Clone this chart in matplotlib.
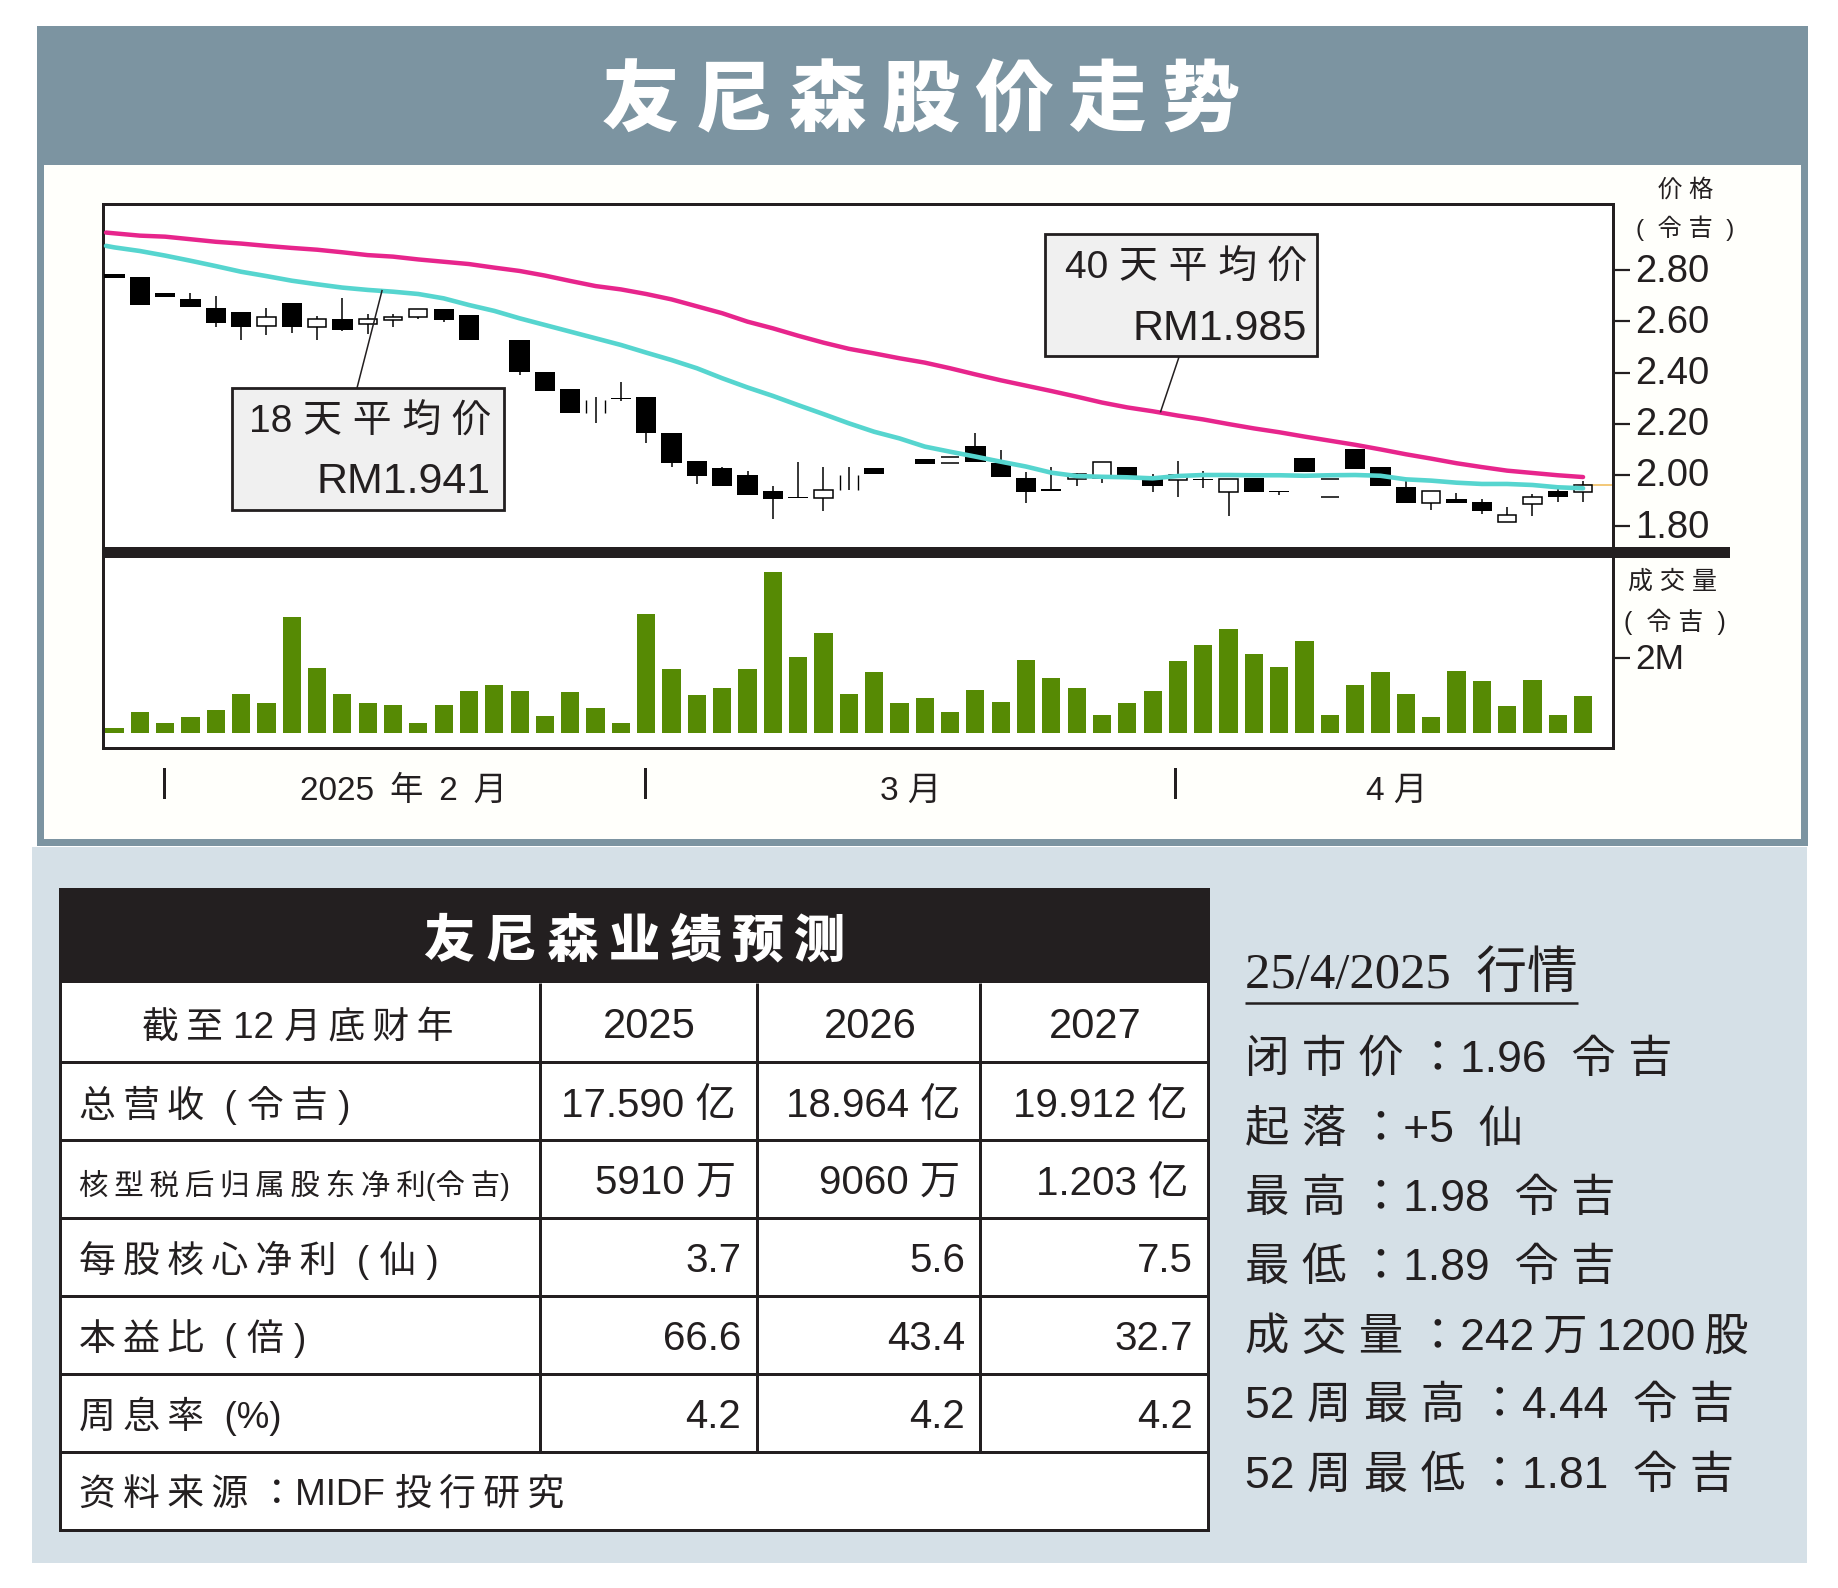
import glob
import os
import numpy as np
import matplotlib
matplotlib.use("Agg")
import matplotlib.pyplot as plt
import matplotlib.font_manager as fm
from matplotlib.patches import Rectangle
from matplotlib.transforms import ScaledTranslation

W, H = 1838, 1588
nan = float("nan")

# ---------- data ----------
opens = [2.785, 2.775, 2.710, 2.686, 2.654, 2.637, 2.582, 2.671, 2.577, 2.609, 2.589, 2.605, 2.618, 2.648, 2.626,
         nan, 2.527, 2.401, 2.335, 2.243, 2.299, 2.303, 2.165, 2.055, 2.026, 1.999, 1.939, 1.915, 1.909, 1.941, 2.026,
         nan, 2.064, 2.046, 2.113, 2.048, 1.987, 1.944, 1.983, 1.987, 2.033, 1.983, 1.980, 1.986, 1.935, 1.990, 1.938,
         2.065, 1.915, 2.103, 2.030, 1.954, 1.892, 1.905, 1.893, 1.815, 1.885, 1.938, 1.935]
closes = [2.770, 2.665, 2.694, 2.655, 2.594, 2.578, 2.618, 2.578, 2.608, 2.566, 2.608, 2.618, 2.647, 2.605, 2.527,
          nan, 2.401, 2.329, 2.242, 2.293, 2.295, 2.165, 2.048, 1.996, 1.956, 1.923, 1.906, 1.911, 1.941, 2.000, 2.005,
          nan, 2.044, 2.072, 2.051, 1.993, 1.935, 1.936, 2.003, 2.052, 1.991, 1.957, 2.000, 1.982, 1.986, 1.935, 1.934,
          2.012, 1.986, 2.022, 1.957, 1.889, 1.938, 1.892, 1.858, 1.844, 1.913, 1.913, 1.962]
highs = [2.785, 2.775, 2.710, 2.712, 2.699, 2.637, 2.651, 2.671, 2.621, 2.690, 2.629, 2.629, 2.647, 2.648, 2.626,
         nan, 2.527, 2.401, 2.335, 2.303, 2.365, 2.303, 2.165, 2.055, 2.033, 2.017, 1.957, 2.051, 2.030, 2.030, 2.026,
         nan, 2.064, 2.072, 2.165, 2.098, 2.013, 2.030, 2.007, 2.052, 2.033, 2.004, 2.056, 2.016, 1.986, 1.990, 1.938,
         2.065, 1.986, 2.103, 2.030, 1.980, 1.938, 1.928, 1.905, 1.876, 1.926, 1.948, 1.975]
lows = [2.770, 2.665, 2.694, 2.655, 2.577, 2.527, 2.547, 2.556, 2.527, 2.564, 2.551, 2.579, 2.611, 2.599, 2.527,
        nan, 2.389, 2.329, 2.242, 2.202, 2.290, 2.124, 2.030, 1.965, 1.956, 1.923, 1.827, 1.911, 1.861, 1.941, 2.005,
        nan, 2.044, 2.046, 2.051, 1.993, 1.889, 1.936, 1.957, 1.967, 1.991, 1.935, 1.915, 1.948, 1.840, 1.935, 1.922,
        2.012, 1.915, 2.022, 1.957, 1.889, 1.863, 1.892, 1.848, 1.815, 1.840, 1.896, 1.896]
# hollow candles that print only as two dashes, or only as side strokes
dash_only = [33, 48]
sides_only = [19, 29]
ma40_start = 2.947
ma18_start = 2.895
ma40 = [2.944, 2.935, 2.931, 2.921, 2.911, 2.904, 2.895, 2.887, 2.880, 2.870, 2.859, 2.853, 2.842, 2.833, 2.824,
        2.810, 2.797, 2.779, 2.758, 2.738, 2.725, 2.707, 2.686, 2.659, 2.632, 2.599, 2.573, 2.544, 2.517, 2.493, 2.475,
        2.456, 2.439, 2.417, 2.393, 2.370, 2.349, 2.328, 2.306, 2.283, 2.264, 2.249, 2.232, 2.217, 2.199, 2.182, 2.167,
        2.150, 2.134, 2.118, 2.100, 2.081, 2.064, 2.046, 2.031, 2.017, 2.008, 1.999, 1.992]
ma18 = [2.889, 2.875, 2.857, 2.837, 2.816, 2.794, 2.777, 2.759, 2.745, 2.732, 2.723, 2.716, 2.707, 2.690, 2.664,
        2.641, 2.612, 2.586, 2.560, 2.534, 2.508, 2.478, 2.449, 2.417, 2.378, 2.342, 2.309, 2.273, 2.238, 2.202, 2.169,
        2.143, 2.111, 2.091, 2.072, 2.052, 2.033, 2.009, 1.996, 1.993, 1.991, 1.987, 1.996, 2.000, 2.000, 1.999, 1.999,
        1.997, 1.999, 2.000, 1.997, 1.983, 1.978, 1.970, 1.965, 1.965, 1.961, 1.952, 1.948]
volume = [0.12, 0.56, 0.26, 0.41, 0.60, 1.05, 0.79, 3.10, 1.74, 1.05, 0.79, 0.75, 0.26, 0.75, 1.13, 1.28, 1.13, 0.45,
          1.09, 0.67, 0.26, 3.18, 1.70, 1.01, 1.20, 1.70, 4.31, 2.04, 2.68, 1.05, 1.62,
          0.79, 0.94, 0.56, 1.16, 0.82, 1.96, 1.47, 1.20, 0.48, 0.79, 1.13, 1.93, 2.37, 2.80, 2.11, 1.77, 2.46,
          0.48, 1.28, 1.62, 1.05, 0.41, 1.66, 1.40, 0.72, 1.43, 0.48, 0.98]
price_ticks = [1.80, 2.00, 2.20, 2.40, 2.60, 2.80]
volume_ticks = [2]
volume_tick_labels = ["2M"]
month_ticks = [1.97, 20.94, 41.87]
month_labels = ["2025 \u2009年 \u20092 \u2009月", "3 月", "4 月"]

years = ["2025", "2026", "2027"]
row_names = ["总营收  ( 令吉 )", "核型税后归属股东净利(令吉)", "每股核心净利  ( 仙 )", "本益比  ( 倍 )", "周息率  (%)"]
col_2025 = ["17.590 亿", "5910 万", "3.7", "66.6", "4.2"]
col_2026 = ["18.964 亿", "9060 万", "5.6", "43.4", "4.2"]
col_2027 = ["19.912 亿", "1.203 亿", "7.5", "32.7", "4.2"]
quote_lines = ["闭 市 价 ：1.96  令 吉", "起 落 ：+5  仙", "最 高 ：1.98  令 吉", "最 低 ：1.89  令 吉",
               "成 交 量 ：242\u2009万\u20091200\u2009股", "52 周 最 高 ：4.44  令 吉", "52 周 最 低 ：1.81  令 吉"]

# ---------- fonts ----------
for pat in ("/usr/share/fonts/**/*CJK*", "/usr/local/share/fonts/**/*CJK*", os.path.expanduser("~/.fonts/**/*CJK*"),
            os.path.expanduser("~/.local/share/fonts/**/*CJK*")):
    for path in glob.glob(pat, recursive=True):
        if os.path.isfile(path) and path.lower().endswith((".ttc", ".otc", ".ttf", ".otf")):
            try:
                fm.fontManager.addfont(path)
            except Exception:
                pass
cjk_names = sorted({f.name for f in fm.fontManager.ttflist if "CJK" in f.name},
                   key=lambda n: (("SC" not in n), n))
CJK = cjk_names[0] if cjk_names else "Noto Sans CJK SC"

INK = "#231f20"
SANS = ["Liberation Sans", CJK]
plt.rcParams["font.family"] = SANS


def sp(s):
    """Tighten tracking like the print original: thin space between CJK neighbours."""
    out = ""
    for a, b in zip(s, s[1:] + " "):
        out += a
        if ord(a) > 0x2E80 and ord(b) > 0x2E80:
            out += "\u2009"
    return out


def px(v):
    return v * 72 / 100


fig = plt.figure(figsize=(W / 100, H / 100), dpi=100, facecolor="white")


def axes_px(x0, y0, x1, y1, **kw):
    return fig.add_axes([x0 / W, 1 - y1 / H, (x1 - x0) / W, (y1 - y0) / H], **kw)


bg = axes_px(0, 0, W, H, zorder=0)
bg.set_xlim(0, W); bg.set_ylim(H, 0); bg.axis("off")
bg.add_patch(Rectangle((37, 26), 1771, 820, fc="#7c94a1", ec="none"))
bg.add_patch(Rectangle((44, 165), 1757, 674, fc="#fffffb", ec="none"))
bg.add_patch(Rectangle((32, 847), 1775, 716, fc="#d5e0e7", ec="none"))

# ---------- price panel ----------
L, R, TOP, MID, BOT = 103, 1613, 204.3, 552, 748
x = np.arange(len(volume))
XPP = 25.32
xlim = ((L - 114.5) / XPP, (R - 114.5) / XPP)

ax = axes_px(L, TOP, R, MID, zorder=2, facecolor="white")
ax.set_xlim(*xlim)
ax.set_ylim(2 + (475 - MID) / 256, 2 + (475 - TOP) / 256)
o, c, hi, lo = map(np.array, (opens, closes, highs, lows))
ok = ~np.isnan(o)
wick = ok.copy()
wick[dash_only] = False
ax.vlines(x[wick], lo[wick], hi[wick], color="black", lw=1.1, zorder=2)
down = ok & (c < o)
up = ok & (c >= o)
up[dash_only + sides_only] = False
ax.bar(x[down], (o - c)[down], bottom=c[down], width=0.8, color="black", lw=0, zorder=3)
ax.bar(x[up], (c - o)[up], bottom=o[up], width=0.72, facecolor="white", edgecolor="black", lw=1.1, zorder=3)
HW = 0.36
ax.hlines(o[dash_only], x[dash_only] - HW, x[dash_only] + HW, color="black", lw=1.1, zorder=3)
ax.hlines(c[dash_only], x[dash_only] - HW, x[dash_only] + HW, color="black", lw=1.1, zorder=3)
ax.vlines(x[sides_only] - HW, o[sides_only], c[sides_only], color="black", lw=1.0, zorder=3)
ax.vlines(x[sides_only] + HW, o[sides_only], c[sides_only], color="black", lw=1.0, zorder=3)
ax.plot([x[-1], xlim[1]], [closes[-1], closes[-1]], color="#f2c46d", lw=1.3, zorder=1)
ma_x = np.r_[xlim[0] + 0.12, x]
ax.plot(ma_x, [ma40_start] + ma40, color="#e7258c", lw=3.2, zorder=4, solid_capstyle="round")
ax.plot(ma_x, [ma18_start] + ma18, color="#56d5cf", lw=3.3, zorder=5, solid_capstyle="round")

# ---------- volume panel ----------
av = axes_px(L, MID, R, BOT, zorder=2, facecolor="white")
av.set_xlim(*xlim)
av.set_ylim((732.7 - BOT) / 37.2, (732.7 - MID) / 37.2)
av.bar(x, volume, width=0.72, color="#568a04", lw=0)

lift = ScaledTranslation(0, 2.5 / 100, fig.dpi_scale_trans)
for a, ticks, labels, size in ((ax, price_ticks, [f"{t:.2f}" for t in price_ticks], 27.5),
                               (av, volume_ticks, volume_tick_labels, 25.5)):
    a.set_xticks([])
    a.yaxis.tick_right()
    a.set_yticks(ticks, labels)
    a.tick_params(axis="y", length=px(17), width=px(2.2), color=INK, pad=px(5), labelsize=size, labelcolor=INK)
    for tick in a.yaxis.get_major_ticks():
        tick.label2.set_transform(tick.label2.get_transform() + lift)
    for s in a.spines.values():
        s.set_linewidth(px(3)); s.set_color(INK)
ax.spines["bottom"].set_visible(False)
av.spines["top"].set_visible(False)

# month separators sit under the frame, on the volume panel's x scale
tr = av.get_xaxis_transform()
for t in month_ticks:
    av.plot([t, t], [-0.105, -0.25], transform=tr, color=INK, lw=px(3), clip_on=False)

# ---------- overlay: labels, boxes, table ----------
ov = axes_px(0, 0, W, H, zorder=5)
ov.set_xlim(0, W); ov.set_ylim(H, 0); ov.axis("off"); ov.patch.set_alpha(0)
ov.add_patch(Rectangle((L - 1.5, 547), 1730 - L + 1.5, 11, fc=INK, ec="none"))


def T(xp, yp, s, size, ha="left", va="baseline", color=INK, **kw):
    ov.text(xp, yp, s, fontsize=size, ha=ha, va=va, color=color, **kw)


T(921, 125, sp("友尼森股价走势"), 56, ha="center", color="white", fontweight="black")
T(1686, 197, "价 格", 17.5, ha="center")
T(1685, 236, "(  令 吉  )", 17.5, ha="center")
T(1673, 589, "成 交 量", 18, ha="center")
T(1675, 630, "(  令 吉  )", 18, ha="center")
for cx, lab in zip((404, 911, 1397), month_labels):
    T(cx, 800, lab, 24, ha="center")

for (x0, y0, x1, y1), (lx0, ly0, lx1, ly1), (t1, t2), (b1, b2), rx in (
    ((232, 388, 504, 510), (382, 290.7, 357, 388), ("18 天 平 均 价", "RM1.941"), (433, 493), 491),
    ((1045, 234.3, 1316.6, 356), (1179, 357, 1160.6, 411.7), ("40 天 平 均 价", "RM1.985"), (279, 340), 1307),
):
    ov.plot([lx0, lx1], [ly0, ly1], color=INK, lw=1.1)
    ov.add_patch(Rectangle((x0, y0), x1 - x0, y1 - y0, fc="#f0f0f0", ec=INK, lw=px(2.8), zorder=3))
    ov.text(rx, b1, t1, fontsize=28, ha="right", va="baseline", color=INK, zorder=4)
    ov.text(rx, b2, t2, fontsize=31, ha="right", va="baseline", color=INK, zorder=4)

# table
TL, TR, TT, TH, TB = 59.5, 1207.5, 888.5, 983, 1530
rows_y = [983, 1062, 1140, 1218, 1296, 1374, 1452]
cols_x = [540, 757, 980]
ov.add_patch(Rectangle((TL, TT), TR - TL, TB - TT, fc="white", ec=INK, lw=px(3)))
ov.add_patch(Rectangle((TL, TT), TR - TL, TH - TT, fc=INK, ec="none"))
for y in rows_y[1:]:
    ov.plot([TL, TR], [y, y], color=INK, lw=px(3), solid_capstyle="butt")
for cxp in cols_x:
    ov.plot([cxp, cxp], [TH, rows_y[-1]], color=INK, lw=px(3), solid_capstyle="butt")

T(635, 957, sp("友尼森业绩预测"), 37, ha="center", color="white", fontweight="black")
T(298, 1038, sp("截至 12 月底财年"), 26.5, ha="center")
for cx, yr in zip((649, 870, 1095), years):
    T(cx, 1038, yr, 30, ha="center")
base = [1117, 1195, 1272, 1350, 1428]
for i, (y, name) in enumerate(zip(base, row_names)):
    T(79, y, sp(name), 21.2 if i == 1 else 26.5)
    off = 0 if i < 2 else 5
    for rx, col in zip((736, 960, 1188), (col_2025, col_2026, col_2027)):
        T(rx + off, y, col[i], 29, ha="right")
T(79, 1505, sp("资料来源 ：MIDF 投行研究"), 26.5)

# quote panel
T(1245, 988, "25/4/2025  行情", 36.5, fontfamily=["Liberation Serif", CJK])
ov.plot([1245, 1578], [1003, 1003], color=INK, lw=px(2.5), solid_capstyle="butt")
for y, line in zip((1072, 1142, 1211, 1280, 1350, 1418, 1488), quote_lines):
    T(1245, y, line, 32)

fig.savefig("out.png", dpi=100, facecolor="white")
